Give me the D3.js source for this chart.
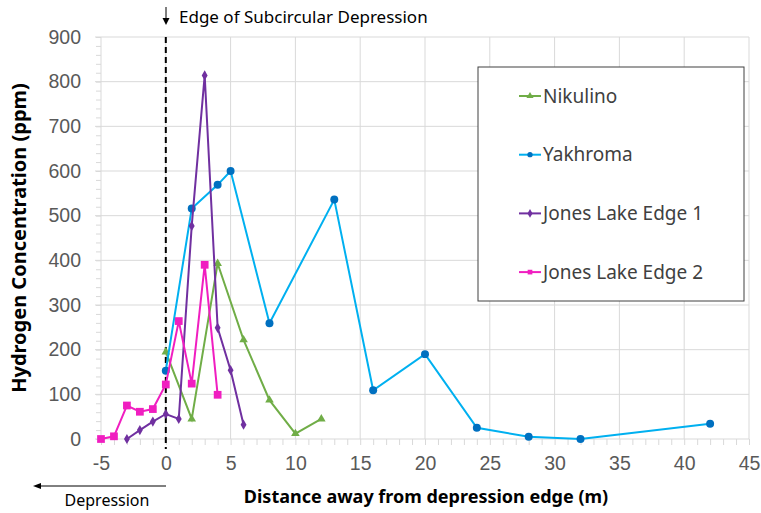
<!DOCTYPE html>
<html>
<head>
<meta charset="utf-8">
<script src="https://cdn.jsdelivr.net/npm/d3@7"></script>
<style>
  body { margin: 0; background: #fff; }
  svg { font-family: "Noto Sans", sans-serif; }
  .grid line { stroke: #d9d9d9; stroke-width: 1; }
  .tick text { fill: #595959; }
</style>
</head>
<body>
<script>

// data
var nikX = [0, 2, 4, 6, 8, 10, 12];
var nikY = [195, 45, 393, 222, 87, 12, 45];

var yakX = [0, 2, 4, 5, 8, 13, 16, 20, 24, 28, 32, 42];
var yakY = [153, 516, 569, 600, 259, 536, 109, 190, 25, 5, 0, 34];

var jones1X = [-3, -2, -1, 0, 1, 2, 3, 4, 5, 6];
var jones1Y = [0, 20, 39, 56, 45, 477, 814, 249, 154, 32];

var jones2X = [-5, -4, -3, -2, -1, 0, 1, 2, 3, 4];
var jones2Y = [0, 6, 75, 61, 67, 122, 264, 124, 390, 99];

var seriesNames = ["Nikulino", "Yakhroma", "Jones Lake Edge 1", "Jones Lake Edge 2"];
var xTicks = [-5, 0, 5, 10, 15, 20, 25, 30, 35, 40, 45];
var yTicks = [0, 100, 200, 300, 400, 500, 600, 700, 800, 900];

//setting dimensions
var W = 761, H = 513,
    margin = {top: 37, right: 12, bottom: 74, left: 101},
    width = W - margin.left - margin.right,
    height = H - margin.top - margin.bottom;

var x = d3.scaleLinear().domain([-5, 45]).range([0, width]);
var y = d3.scaleLinear().domain([0, 900]).range([height, 0]);

var svgRoot = d3.select("body").append("svg")
    .attr("width", W)
    .attr("height", H);

var svg = svgRoot.append("g")
    .attr("transform", "translate(" + margin.left + "," + margin.top + ")");

// vertical gridlines (incl. the y axis line at -5)
svg.append("g")
    .attr("class", "grid")
    .selectAll("line")
    .data(xTicks)
    .enter().append("line")
    .attr("x1", function(d) { return x(d); })
    .attr("x2", function(d) { return x(d); })
    .attr("y1", 0)
    .attr("y2", height);

// horizontal gridlines, poking out left as major ticks
svg.append("g")
    .attr("class", "grid")
    .selectAll("line")
    .data(yTicks)
    .enter().append("line")
    .attr("x1", -6)
    .attr("x2", width)
    .attr("y1", function(d) { return y(d); })
    .attr("y2", function(d) { return y(d); });

// minor ticks on y axis
svg.append("g")
    .attr("class", "grid")
    .call(d3.axisLeft(y).tickValues(d3.range(0, 901, 20)).tickSize(5).tickFormat(""))
    .call(function(g) { g.select(".domain").remove(); });

// minor ticks on x axis
svg.append("g")
    .attr("class", "grid")
    .attr("transform", "translate(0," + height + ")")
    .call(d3.axisBottom(x).tickValues(d3.range(-5, 46, 1)).tickSize(6).tickFormat(""))
    .call(function(g) { g.select(".domain").remove(); });

// plain hyphen minus like the original
var fmt = function(d) { return String(d); };

// Y axis labels
svg.append("g")
    .call(d3.axisLeft(y).tickValues(yTicks).tickSize(0).tickPadding(20).tickFormat(fmt))
    .call(function(g) { g.select(".domain").remove(); })
    .selectAll("text")
    .style("font-size", "19.5px");

// X axis labels
svg.append("g")
    .attr("transform", "translate(0," + height + ")")
    .call(d3.axisBottom(x).tickValues(xTicks).tickSize(0).tickPadding(17).tickFormat(fmt))
    .call(function(g) { g.select(".domain").remove(); })
    .selectAll("text")
    .style("font-size", "19.5px");

// edge of depression dashed line
svg.append("line")
    .attr("x1", x(0)).attr("x2", x(0))
    .attr("y1", 0).attr("y2", height + 10)
    .attr("stroke", "#000")
    .attr("stroke-width", 2)
    .attr("stroke-dasharray", "6,4");

// marker shapes
var symTri = d3.symbol().type(d3.symbolTriangle).size(32);
var symCircle = d3.symbol().type(d3.symbolCircle).size(50);
var symDiamond = d3.symbol().type(d3.symbolDiamond).size(30);
var symSquare = d3.symbol().type(d3.symbolSquare).size(60);

var series = [
  {name: seriesNames[0], xs: nikX, ys: nikY, line: "#70AD47", fill: "#70AD47", sym: symTri},
  {name: seriesNames[1], xs: yakX, ys: yakY, line: "#00B0F0", fill: "#0070C0", sym: symCircle},
  {name: seriesNames[2], xs: jones1X, ys: jones1Y, line: "#7030A0", fill: "#7030A0", sym: symDiamond},
  {name: seriesNames[3], xs: jones2X, ys: jones2Y, line: "#F01EC0", fill: "#F01EC0", sym: symSquare}
];

var valueline = d3.line()
    .x(function(d) { return x(d[0]); })
    .y(function(d) { return y(d[1]); });

series.forEach(function(s) {
  var pts = s.xs.map(function(v, i) { return [v, s.ys[i]]; });
  svg.append("path")
      .datum(pts)
      .attr("fill", "none")
      .attr("stroke", s.line)
      .attr("stroke-width", 2)
      .attr("d", valueline);
  svg.append("g")
    .selectAll("path")
    .data(pts)
    .enter().append("path")
      .attr("d", s.sym)
      .attr("fill", s.fill)
      .attr("transform", function(d) { return "translate(" + x(d[0]) + "," + y(d[1]) + ")"; });
});

// legend
var legend = svg.append("g")
    .attr("transform", "translate(" + (478 - margin.left) + "," + (67 - margin.top) + ")");

legend.append("rect")
    .attr("width", 266)
    .attr("height", 234)
    .attr("fill", "#fff")
    .attr("stroke", "#404040")
    .attr("stroke-width", 1);

series.forEach(function(s, i) {
  var ly = 29 + i * 58.7;
  legend.append("line")
      .attr("x1", 41).attr("x2", 63)
      .attr("y1", ly).attr("y2", ly)
      .attr("stroke", s.line)
      .attr("stroke-width", 2);
  legend.append("path")
      .attr("d", d3.symbol().type(s.sym.type()).size(22))
      .attr("fill", s.fill)
      .attr("transform", "translate(52," + ly + ")");
  legend.append("text")
      .attr("x", 65)
      .attr("y", ly)
      .attr("dy", "0.35em")
      .style("font-size", "19px")
      .style("fill", "#404040")
      .text(s.name);
});

// text label for the x axis
svg.append("text")
    .attr("x", 426 - margin.left)
    .attr("y", 503 - margin.top)
    .style("text-anchor", "middle")
    .style("font-size", "18px")
    .style("font-weight", "bold")
    .text("Distance away from depression edge (m)");

// text label for the y axis
svg.append("text")
    .attr("transform", "rotate(-90)")
    .attr("x", -(238 - margin.top))
    .attr("y", 26 - margin.left)
    .style("text-anchor", "middle")
    .style("font-size", "20px")
    .style("font-weight", "bold")
    .text("Hydrogen Concentration (ppm)");

// annotations outside the plot
var notes = svgRoot.append("g");
notes.append("line")
    .attr("x1", 166).attr("x2", 166)
    .attr("y1", 7).attr("y2", 21)
    .attr("stroke", "#000").attr("stroke-width", 1);
notes.append("path")
    .attr("d", "M162.5,18 L166,25 L169.5,18 Z")
    .attr("fill", "#000");
notes.append("text")
    .attr("x", 179)
    .attr("y", 23)
    .style("font-size", "17px")
    .style("fill", "#000")
    .text("Edge of Subcircular Depression");

// depression arrow at the bottom
notes.append("line")
    .attr("x1", 40).attr("x2", 166)
    .attr("y1", 486).attr("y2", 486)
    .attr("stroke", "#000").attr("stroke-width", 1);
notes.append("path")
    .attr("d", "M33,486 L41,483 L41,489 Z")
    .attr("fill", "#000");
notes.append("text")
    .attr("x", 107)
    .attr("y", 506)
    .style("text-anchor", "middle")
    .style("font-size", "16px")
    .style("fill", "#000")
    .text("Depression");

</script>
</body>
</html>
